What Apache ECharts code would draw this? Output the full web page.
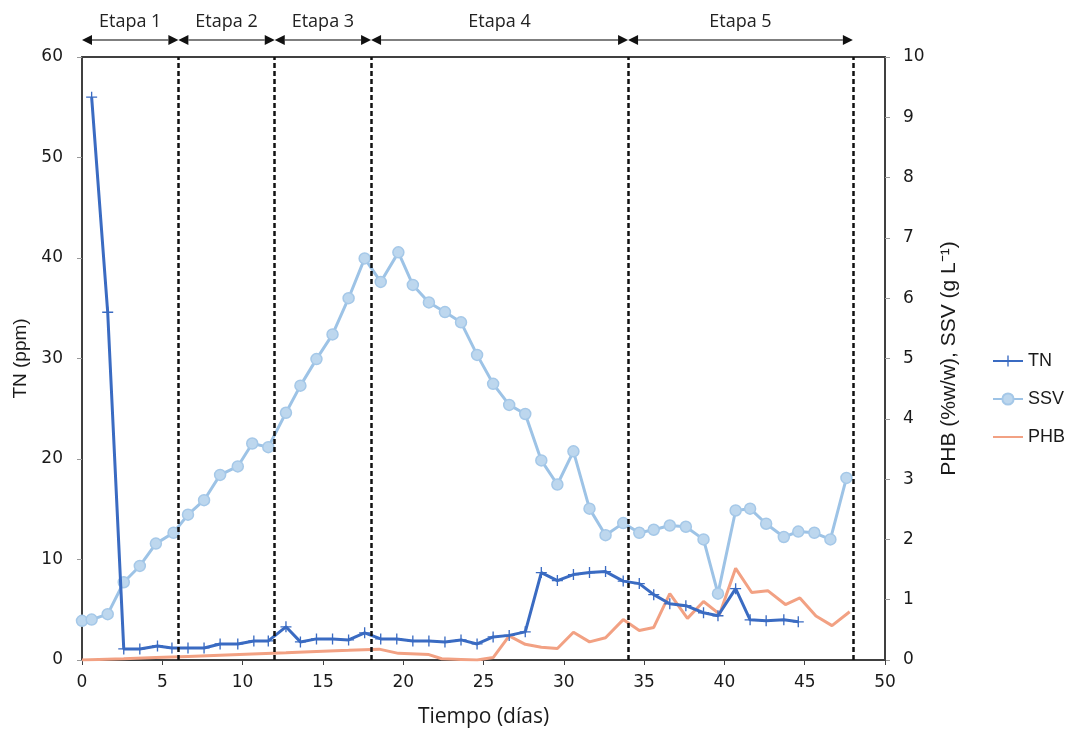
<!DOCTYPE html>
<html>
<head>
<meta charset="utf-8">
<script src="https://cdn.jsdelivr.net/npm/echarts@6/dist/echarts.min.js"></script>
<style>html,body{margin:0;padding:0;background:#fff;}#c{width:1068px;height:733px;}</style>
</head>
<body>
<div id="c"></div>
<script>
// ---- data ----
const tnDays = [0.6, 1.6, 2.6, 3.6, 4.7, 5.6, 6.6, 7.6, 8.6, 9.7, 10.7, 11.6, 12.7, 13.6, 14.6, 15.6, 16.6, 17.6, 18.6, 19.6, 20.6, 21.6, 22.6, 23.6, 24.6, 25.6, 26.6, 27.6, 28.6, 29.6, 30.6, 31.6, 32.6, 33.7, 34.7, 35.6, 36.6, 37.6, 38.7, 39.6, 40.7, 41.6, 42.6, 43.7, 44.6];
const tnValues = [56.0, 34.6, 1.1, 1.1, 1.4, 1.2, 1.2, 1.2, 1.6, 1.6, 1.9, 1.9, 3.3, 1.8, 2.1, 2.1, 2.0, 2.7, 2.1, 2.1, 1.9, 1.9, 1.8, 2.0, 1.6, 2.3, 2.45, 2.8, 8.7, 7.9, 8.5, 8.7, 8.8, 7.85, 7.6, 6.5, 5.6, 5.4, 4.7, 4.4, 7.1, 4.0, 3.9, 4.0, 3.8];

const ssvDays = [0, 0.6, 1.6, 2.6, 3.6, 4.6, 5.7, 6.6, 7.6, 8.6, 9.7, 10.6, 11.6, 12.7, 13.6, 14.6, 15.6, 16.6, 17.6, 18.6, 19.7, 20.6, 21.6, 22.6, 23.6, 24.6, 25.6, 26.6, 27.6, 28.6, 29.6, 30.6, 31.6, 32.6, 33.7, 34.7, 35.6, 36.6, 37.6, 38.7, 39.6, 40.7, 41.6, 42.6, 43.7, 44.6, 45.6, 46.6, 47.6];
const ssvValues = [0.65, 0.67, 0.76, 1.29, 1.56, 1.93, 2.11, 2.41, 2.65, 3.07, 3.21, 3.59, 3.53, 4.10, 4.55, 4.99, 5.40, 6.00, 6.66, 6.27, 6.76, 6.22, 5.93, 5.77, 5.60, 5.06, 4.58, 4.23, 4.08, 3.31, 2.91, 3.46, 2.51, 2.07, 2.27, 2.11, 2.16, 2.23, 2.21, 2.00, 1.10, 2.48, 2.51, 2.26, 2.04, 2.13, 2.11, 2.00, 3.02];

const phbDays = [0, 2.6, 4.6, 6.6, 8.6, 10.6, 12.7, 14.6, 16.6, 18.5, 19.7, 21.6, 22.4, 23.6, 24.6, 25.6, 26.6, 27.6, 28.6, 29.6, 30.6, 31.6, 32.6, 33.7, 34.7, 35.6, 36.6, 37.7, 38.7, 39.7, 40.7, 41.7, 42.7, 43.8, 44.7, 45.7, 46.7, 47.8];
const phbValues = [0, 0.02, 0.04, 0.06, 0.08, 0.10, 0.12, 0.14, 0.16, 0.18, 0.11, 0.09, 0.02, 0.01, 0.0, 0.04, 0.40, 0.26, 0.21, 0.19, 0.46, 0.30, 0.37, 0.67, 0.49, 0.54, 1.10, 0.69, 0.97, 0.76, 1.52, 1.12, 1.15, 0.92, 1.03, 0.73, 0.57, 0.80];

const stageBounds = [0, 6, 12, 18, 34, 48];
const stageLabels = ['Etapa 1', 'Etapa 2', 'Etapa 3', 'Etapa 4', 'Etapa 5'];
const xTicks = [0, 50, 5];
const leftTicks = [0, 60, 10];
const rightTicks = [0, 10, 1];

const zip = (a, b) => a.map((d, i) => [d, b[i]]);

const chart = echarts.init(document.getElementById('c'), null, {renderer: 'canvas'});
const plusPath = 'path://M4.4,0h1.2v4.4h4.4v1.2h-4.4v4.4h-1.2v-4.4h-4.4v-1.2h4.4z';
const axisCol = '#404040';
const lblFont = {fontFamily: 'DejaVu Sans', fontSize: 17, color: '#1a1a1a'};

const option = {
  animation: false,
  backgroundColor: '#fff',
  grid: {left: 82, right: 183, top: 57, bottom: 72, containLabel: false},
  legend: {
    orient: 'vertical', left: 987, top: 347, itemWidth: 30, itemHeight: 14, itemGap: 20,
    textStyle: {fontFamily: 'Liberation Sans', fontSize: 18, color: '#1a1a1a'},
    data: ['TN', 'SSV', {name: 'PHB', itemStyle: {opacity: 0}}]
  },
  xAxis: [{
    type: 'value', min: xTicks[0], max: xTicks[1], interval: xTicks[2],
    name: 'Tiempo (días)', nameLocation: 'middle', nameGap: 47,
    nameTextStyle: {fontFamily: 'Open Sans', fontSize: 21, color: '#1a1a1a'},
    axisLine: {show: true, onZero: false, lineStyle: {color: axisCol, width: 2}},
    axisTick: {show: true, length: 5, lineStyle: {color: axisCol}},
    axisLabel: Object.assign({margin: 14}, lblFont),
    splitLine: {show: false}
  }, {
    type: 'value', position: 'top', min: xTicks[0], max: xTicks[1],
    axisLine: {show: true, onZero: false, lineStyle: {color: axisCol, width: 2}},
    axisTick: {show: false}, axisLabel: {show: false}, splitLine: {show: false}
  }],
  yAxis: [{
    type: 'value', position: 'left', min: leftTicks[0], max: leftTicks[1], interval: leftTicks[2],
    name: 'TN (ppm)', nameLocation: 'middle', nameGap: 52, nameRotate: 90,
    nameTextStyle: {fontFamily: 'Liberation Sans', fontSize: 19, color: '#1a1a1a'},
    axisLine: {show: true, onZero: false, lineStyle: {color: axisCol, width: 2}},
    axisTick: {show: true, length: 5, lineStyle: {color: '#999'}},
    axisLabel: Object.assign({margin: 19}, lblFont),
    splitLine: {show: false}
  }, {
    type: 'value', position: 'right', min: rightTicks[0], max: rightTicks[1], interval: rightTicks[2],
    name: 'PHB (%w/w), SSV (g L⁻¹)', nameLocation: 'middle', nameGap: 54, nameRotate: 90,
    nameTextStyle: {fontFamily: 'Liberation Sans', fontSize: 21, color: '#1a1a1a'},
    axisLine: {show: true, onZero: false, lineStyle: {color: axisCol, width: 2}},
    axisTick: {show: true, length: 5, lineStyle: {color: '#999'}},
    axisLabel: Object.assign({margin: 18}, lblFont),
    splitLine: {show: false}
  }],
  series: [{
    name: 'SSV', type: 'line', yAxisIndex: 1, data: zip(ssvDays, ssvValues),
    symbol: 'circle', symbolSize: 11, z: 2,
    lineStyle: {color: '#9dc3e6', width: 3},
    itemStyle: {color: '#bdd7ee', borderColor: '#a5c8e8', borderWidth: 1.5}
  }, {
    name: 'PHB', type: 'line', yAxisIndex: 1, data: zip(phbDays, phbValues),
    symbol: 'none', z: 3,
    lineStyle: {color: '#f2a183', width: 3},
    itemStyle: {color: '#f2a183'}
  }, {
    name: 'TN', type: 'line', yAxisIndex: 0, data: zip(tnDays, tnValues),
    symbol: plusPath, symbolSize: 11, z: 4,
    lineStyle: {color: '#3a6bc2', width: 3},
    itemStyle: {color: '#3a6bc2'},
    markLine: {
      silent: true, symbol: 'none', label: {show: false},
      lineStyle: {color: '#111', type: [5, 3], width: 2.5},
      data: stageBounds.slice(1).map(v => ({xAxis: v}))
    }
  }]
};
chart.setOption(option);

// stage arrows above the plot, positioned through the x axis scale
const arrowY = 40, labelY = 22, headL = 10, headW = 5;
const graphics = [];
for (let i = 0; i < stageLabels.length; i++) {
  const a = chart.convertToPixel({xAxisIndex: 0}, stageBounds[i]);
  const b = chart.convertToPixel({xAxisIndex: 0}, stageBounds[i + 1]);
  graphics.push({type: 'line', shape: {x1: a + headL, y1: arrowY, x2: b - headL, y2: arrowY}, style: {stroke: '#555', lineWidth: 1.5}});
  graphics.push({type: 'polygon', shape: {points: [[a, arrowY], [a + headL, arrowY - headW], [a + headL, arrowY + headW]]}, style: {fill: '#111'}});
  graphics.push({type: 'polygon', shape: {points: [[b, arrowY], [b - headL, arrowY - headW], [b - headL, arrowY + headW]]}, style: {fill: '#111'}});
  graphics.push({type: 'text', x: (a + b) / 2, y: labelY, style: {text: stageLabels[i], fontFamily: 'Open Sans', fontSize: 18, fill: '#222', textAlign: 'center', textVerticalAlign: 'middle'}});
}
chart.setOption({graphic: graphics});
</script>
</body>
</html>
